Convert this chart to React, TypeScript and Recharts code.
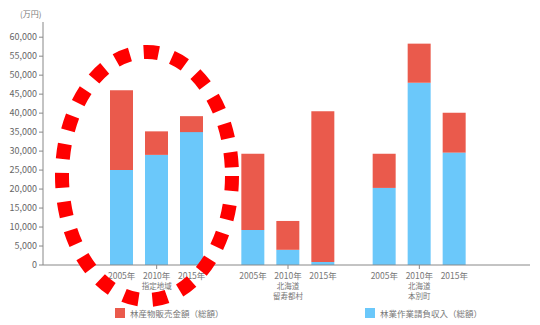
import React from 'react';
import { BarChart, Bar, XAxis, YAxis, Legend } from 'recharts';

const regions = ['指定地域', '北海道\n留寿都村', '北海道\n本別町'];
const years = ['2005年', '2010年', '2015年'];

// 林業作業請負収入（総額） — lower (blue) part, per region, per year
const contractIncome = [
  [25000, 29000, 35000],
  [9200, 4000, 800],
  [20300, 48000, 29600],
];
// 林産物販売金額（総額） — upper (red) part
const productSales = [
  [21000, 6200, 4200],
  [20100, 7600, 39700],
  [9000, 10300, 10500],
];

const yTicks = [0, 5000, 10000, 15000, 20000, 25000, 30000, 35000, 40000, 45000, 50000, 55000, 60000];

const RED = '#EA5A4C';
const BLUE = '#6BC8FA';
const FONT = '"Noto Sans CJK JP", "Noto Sans", sans-serif';
const BAR_SIZE = 23;
const BAR_GAP = 12;

const data = regions.map((region, i) => {
  const row: Record<string, string | number> = { region };
  years.forEach((_, j) => {
    row[`b${j}`] = contractIncome[i][j];
    row[`r${j}`] = productSales[i][j];
  });
  return row;
});

const legendItems = [
  { label: '林産物販売金額（総額）', color: RED, left: 115 },
  { label: '林業作業請負収入（総額）', color: BLUE, left: 365 },
];

const YearTick = (props: any) => {
  const { x, y, payload } = props;
  const lines = String(payload.value).split('\n');
  const step = BAR_SIZE + BAR_GAP;
  return (
    <g>
      {years.map((yr, i) => (
        <text key={yr} x={x + (i - 1) * step} y={y + 8} textAnchor="middle" fontSize={8.5} fill="#777" fontFamily={FONT}>
          {yr}
        </text>
      ))}
      {lines.map((ln, i) => (
        <text key={i} x={x} y={y + 18 + i * 10} textAnchor="middle" fontSize={7.5} fill="#777" fontFamily={FONT}>
          {ln}
        </text>
      ))}
    </g>
  );
};

const LegendContent = () => (
  <div style={{ position: 'relative', height: 16, fontFamily: FONT, fontSize: 8.5, color: '#777' }}>
    {legendItems.map((it) => (
      <div key={it.label} style={{ position: 'absolute', left: it.left, top: 4, display: 'flex', alignItems: 'center' }}>
        <span style={{ display: 'inline-block', width: 10, height: 10, background: it.color, marginRight: 5 }} />
        <span>{it.label}</span>
      </div>
    ))}
  </div>
);

export default function App() {
  return (
    <div style={{ position: 'absolute', left: 0, top: 0, width: 540, height: 325, background: '#fff' }}>
      <div style={{ position: 'absolute', left: 20, top: 8, fontSize: 8, color: '#777', fontFamily: FONT }}>(万円)</div>
      <BarChart
        width={540}
        height={325}
        data={data}
        margin={{ top: 22, right: 10, left: 0, bottom: 4 }}
        barSize={BAR_SIZE}
        barGap={BAR_GAP}
      >
        <XAxis
          dataKey="region"
          interval={0}
          padding={{ left: 48, right: 45 }}
          height={38}
          axisLine={{ stroke: '#888' }}
          tickLine={{ stroke: '#888' }}
          tickSize={4}
          tick={<YearTick />}
        />
        <YAxis
          width={43}
          domain={[0, 64000]}
          ticks={yTicks}
          interval={0}
          tickFormatter={(v: number) => v.toLocaleString('en-US')}
          tick={{ fontSize: 9, fill: '#666', fontFamily: FONT }}
          axisLine={{ stroke: '#888' }}
          tickLine={{ stroke: '#888' }}
          tickSize={4}
        />
        <Legend verticalAlign="bottom" height={18} content={<LegendContent />} />
        {years.map((_, j) => [
          <Bar key={`b${j}`} dataKey={`b${j}`} stackId={`s${j}`} fill={BLUE} isAnimationActive={false} />,
          <Bar key={`r${j}`} dataKey={`r${j}`} stackId={`s${j}`} fill={RED} isAnimationActive={false} />,
        ])}
      </BarChart>
      <svg width={540} height={325} style={{ position: 'absolute', left: 0, top: 0, pointerEvents: 'none' }}>
        <ellipse cx={147} cy={176} rx={85} ry={124} fill="none" stroke="#FF0000" strokeWidth={14} strokeDasharray="15 14" />
      </svg>
    </div>
  );
}
